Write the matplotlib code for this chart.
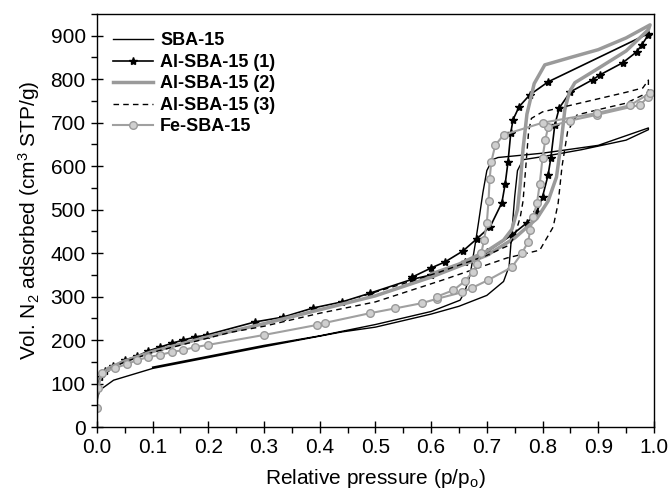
import matplotlib.pyplot as plt
from matplotlib.ticker import MultipleLocator

plt.rcParams['font.family'] = ['Liberation Sans', 'DejaVu Sans']
plt.rcParams['mathtext.default'] = 'regular'

# SBA-15
sba_ads_x = [0.0, 0.005, 0.03, 0.1, 0.2, 0.3, 0.44, 0.5, 0.6, 0.65, 0.7, 0.73, 0.74, 0.745, 0.75, 0.755, 0.765, 0.8, 0.87, 0.95, 0.99]
sba_ads_y = [60, 85, 108, 135, 160, 185, 219, 230, 260, 278, 303, 335, 370, 450, 530, 590, 615, 622, 638, 660, 684]
sba_des_x = [0.99, 0.9, 0.8, 0.72, 0.71, 0.70, 0.693, 0.685, 0.679, 0.67, 0.66, 0.652, 0.6, 0.5, 0.4, 0.3, 0.2, 0.1]
sba_des_y = [688, 648, 630, 620, 615, 590, 540, 470, 420, 350, 310, 292, 266, 236, 210, 188, 163, 138]

# Al-SBA-15 (1)
al1_ads_x = [0.0, 0.005, 0.015, 0.029, 0.05, 0.072, 0.092, 0.113, 0.135, 0.154, 0.176, 0.197, 0.284, 0.334, 0.388, 0.44, 0.49,
             0.566, 0.6, 0.66, 0.70, 0.745, 0.772, 0.79, 0.80, 0.81, 0.815, 0.822, 0.83, 0.85, 0.89, 0.903, 0.944, 0.969, 0.978, 0.99]
al1_ads_y = [90, 115, 130, 140, 154, 163, 175, 184, 193, 200, 207, 212, 242, 253, 274, 288, 308,
             340, 350, 380, 403, 442, 470, 495, 530, 580, 620, 695, 734, 771, 799, 810, 838, 863, 879, 902]
al1_des_x = [0.99, 0.81, 0.777, 0.758, 0.747, 0.743, 0.738, 0.733, 0.727, 0.706, 0.682, 0.657, 0.625, 0.6, 0.566]
al1_des_y = [905, 794, 764, 737, 707, 677, 610, 560, 516, 461, 433, 405, 380, 366, 345]

# Al-SBA-15 (2)
al2_ads_x = [0.0, 0.005, 0.02, 0.05, 0.1, 0.2, 0.3, 0.4, 0.5, 0.6, 0.7, 0.75, 0.79, 0.81, 0.825, 0.833, 0.84, 0.848, 0.858, 0.9, 0.95, 0.99]
al2_ads_y = [85, 112, 135, 152, 174, 208, 238, 270, 302, 345, 395, 435, 480, 520, 575, 650, 730, 770, 792, 825, 865, 914]
al2_des_x = [0.993, 0.95, 0.9, 0.85, 0.804, 0.785, 0.772, 0.765, 0.76, 0.755, 0.745, 0.73, 0.7, 0.65, 0.6]
al2_des_y = [925, 895, 868, 850, 833, 790, 720, 640, 560, 500, 455, 430, 405, 375, 352]

# Al-SBA-15 (3)
al3_ads_x = [0.0, 0.005, 0.02, 0.05, 0.1, 0.2, 0.24, 0.3, 0.4, 0.5, 0.62, 0.736, 0.795, 0.819, 0.828, 0.835, 0.845, 0.862, 0.9, 0.95, 0.99]
al3_ads_y = [80, 110, 132, 150, 172, 205, 218, 232, 262, 288, 338, 389, 407, 460, 515, 600, 680, 718, 730, 745, 770]
al3_des_x = [0.99, 0.98, 0.95, 0.9, 0.85, 0.8, 0.78, 0.775, 0.77, 0.765, 0.76, 0.75, 0.741, 0.7, 0.616, 0.55, 0.47]
al3_des_y = [798, 780, 770, 755, 740, 725, 710, 680, 600, 520, 483, 440, 419, 395, 357, 330, 299]

# Fe-SBA-15
fe_ads_x = [0.0, 0.002, 0.009, 0.032, 0.054, 0.072, 0.092, 0.113, 0.135, 0.154, 0.176, 0.199, 0.3, 0.395, 0.41, 0.49, 0.535,
            0.583, 0.61, 0.655, 0.673, 0.702, 0.745, 0.763, 0.774, 0.778, 0.783, 0.79, 0.795, 0.80, 0.805, 0.81, 0.85, 0.897, 0.975, 0.99]
fe_ads_y = [45, 90, 124, 136, 145, 154, 161, 166, 173, 177, 184, 189, 212, 235, 240, 262, 273,
            285, 295, 310, 320, 338, 368, 400, 426, 453, 483, 515, 560, 620, 661, 690, 705, 718, 741, 760]
fe_des_x = [0.993, 0.957, 0.897, 0.80, 0.73, 0.715, 0.708, 0.705, 0.703, 0.70, 0.695, 0.69, 0.683, 0.675, 0.66, 0.64, 0.61]
fe_des_y = [768, 740, 722, 700, 672, 648, 610, 570, 520, 470, 430, 400, 375, 357, 335, 315, 300]

fig = plt.figure(figsize=(6.68, 4.91), dpi=100)
ax = fig.add_axes([0.145, 0.130, 0.834, 0.8415])

ax.plot(sba_ads_x + sba_des_x, sba_ads_y + sba_des_y, color='black', lw=1.0, label='SBA-15')
ax.plot(al1_ads_x + al1_des_x, al1_ads_y + al1_des_y, color='black', lw=1.2, marker='*', ms=6,
        label='Al-SBA-15 (1)')
ax.plot(al2_ads_x + al2_des_x, al2_ads_y + al2_des_y, color='#9a9a9a', lw=2.5, label='Al-SBA-15 (2)')
ax.plot(al3_ads_x + al3_des_x, al3_ads_y + al3_des_y, color='black', lw=1.0, ls=(0, (4, 3)), label='Al-SBA-15 (3)')
ax.plot(fe_ads_x + fe_des_x, fe_ads_y + fe_des_y, color='#a0a0a0', lw=1.5, marker='o', ms=5.5,
        mfc='#cfcfcf', mec='#9a9a9a', label='Fe-SBA-15')

ax.set_xlim(0, 1.0)
ax.set_ylim(0, 950)
ax.xaxis.set_major_locator(MultipleLocator(0.1))
ax.xaxis.set_minor_locator(MultipleLocator(0.05))
ax.yaxis.set_major_locator(MultipleLocator(100))
ax.yaxis.set_minor_locator(MultipleLocator(50))
ax.set_xticks([i / 10 for i in range(11)])
ax.set_xticklabels(['0.0', '0.1', '0.2', '0.3', '0.4', '0.5', '0.6', '0.7', '0.8', '0.9', '1.0'])
ax.tick_params(which='major', direction='inout', length=8, width=1, labelsize=15, pad=4)
ax.tick_params(which='minor', direction='out', length=4, width=1)
for s in ax.spines.values():
    s.set_linewidth(1.0)

ax.set_xlabel('Relative pressure (p/p$_o$)', fontsize=15, labelpad=7)
ax.set_ylabel('Vol. N$_2$ adsorbed (cm$^3$ STP/g)', fontsize=15, labelpad=6)

leg = ax.legend(loc='upper left', bbox_to_anchor=(0.0, 0.995), frameon=False, prop={'weight': 'bold', 'size': 13},
                handlelength=2.2, labelspacing=0.25, handletextpad=0.4, borderpad=0.4)

fig.savefig('out.png', dpi=100)
